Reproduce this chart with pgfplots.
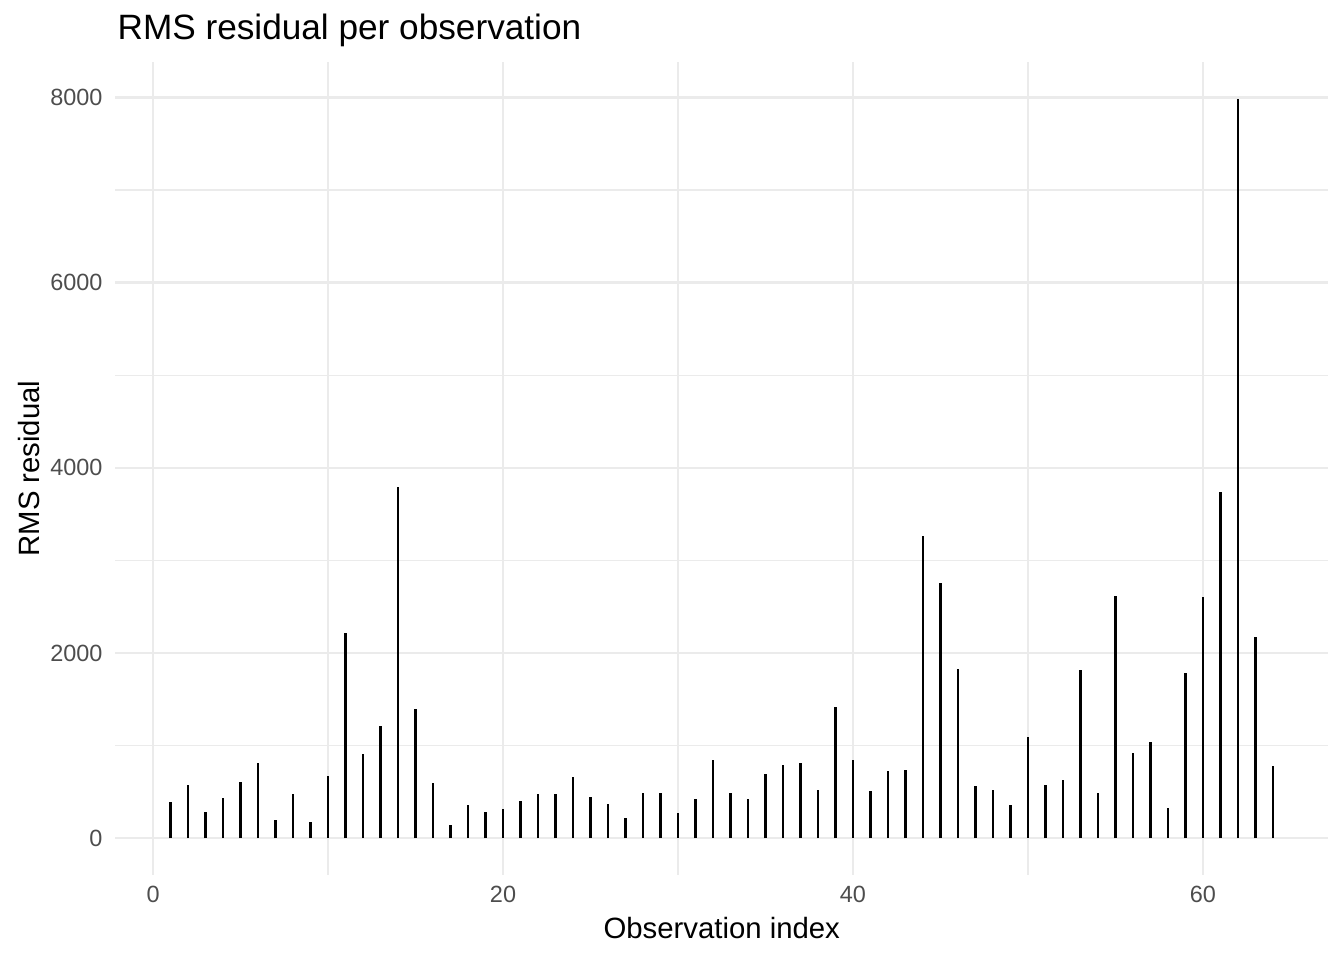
\documentclass[border=0pt]{standalone}
\usepackage{pgfplots}
\pgfplotsset{compat=1.18}
\usepackage{fontspec}
\setmainfont{Liberation Sans}
\definecolor{gridc}{HTML}{EBEBEB}
\definecolor{tickc}{HTML}{4D4D4D}
\pgfplotstableread{
x y
1 386
2 570
3 285
4 433
5 610
6 812
7 199
8 473
9 170
10 671
11 2213
12 913
13 1209
14 3798
15 1397
16 600
17 144
18 357
19 285
20 318
21 397
22 480
23 473
24 664
25 448
26 372
27 220
28 487
29 487
30 271
31 426
32 848
33 487
34 419
35 690
36 787
37 816
38 516
39 1422
40 841
41 509
42 722
43 733
44 3267
45 2755
46 1830
47 567
48 523
49 361
50 1097
51 570
52 625
53 1819
54 491
55 2614
56 924
57 1040
58 328
59 1783
60 2603
61 3744
62 7985
63 2177
64 780
}\rms
\begin{document}
\begin{tikzpicture}
\begin{axis}[
  name=ax,
  scale only axis,
  width=454.7pt, height=304.9pt,
  xmin=-2.15, xmax=67.15,
  ymin=-399, ymax=8384,
  axis line style={draw=none},
  major tick length=0pt, minor tick length=0pt,
  tick style={draw=none},
  xtick={0,20,40,60},
  ytick={0,2000,4000,6000,8000},
  minor xtick={10,30,50},
  minor ytick={1000,3000,5000,7000},
  grid=both,
  major grid style={gridc, line width=1pt},
  minor grid style={gridc, line width=0.5pt},
  scaled ticks=false,
  /pgf/number format/1000 sep={},
  /pgf/number format/assume math mode=true,
  ticklabel style={font=\fontsize{8.8}{10}\selectfont, text=tickc},
  xticklabel style={anchor=base, inner sep=0pt, yshift=-10.1pt},
  yticklabel style={anchor=east, inner sep=0pt, xshift=-4.65pt},
  clip=false,
]
\addplot[ycomb, black, line width=1pt, mark=none] table[x=x,y=y] {\rms};
\end{axis}
\node[anchor=base west, inner sep=0pt, font=\fontsize{13.2}{15}\selectfont] at ([xshift=0.6pt,yshift=8.6pt]ax.north west) {RMS residual per observation};
\node[anchor=base, inner sep=0pt, font=\fontsize{11}{13}\selectfont] at ([yshift=-23.6pt]ax.south) {Observation index};
\node[anchor=base, rotate=90, inner sep=0pt, font=\fontsize{11}{13}\selectfont] at ([xshift=-28.3pt]ax.west) {RMS residual};
\pgfresetboundingbox
\path[use as bounding box] ([xshift=-43.3pt,yshift=-31.9pt]ax.south west) rectangle ([xshift=6pt,yshift=23.25pt]ax.north east);
\end{tikzpicture}
\end{document}
